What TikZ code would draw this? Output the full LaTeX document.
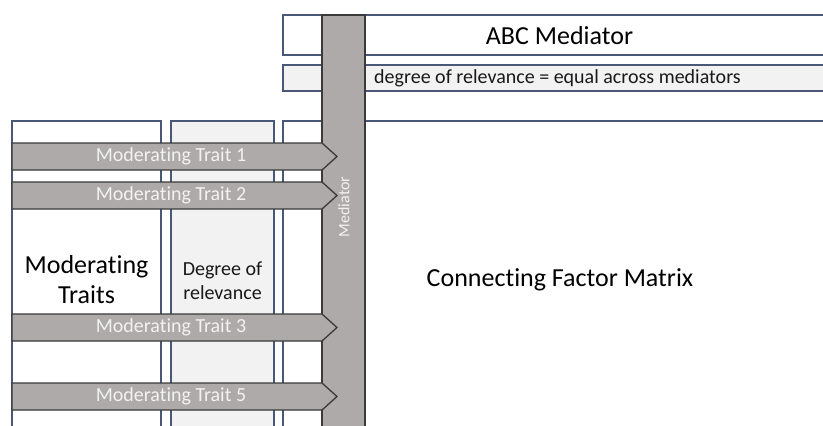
\documentclass[tikz,border=0pt]{standalone}
\usepackage{fontspec}
\setmainfont[Ligatures=NoCommon]{Carlito}
\definecolor{framec}{HTML}{4A5878}
\definecolor{bandc}{HTML}{F2F2F2}
\definecolor{traitc}{HTML}{AEAAAA}
\definecolor{edgec}{HTML}{3A3A3A}
\begin{document}
\begin{tikzpicture}[x=1pt,y=-1pt]
\tikzset{
  frame/.style={draw=framec, line width=1.2pt, fill=white},
  band/.style={frame, fill=bandc},
  medbar/.style={draw=edgec, line width=1.3pt, fill=traitc},
  traitarrow/.style={draw=edgec, line width=1.3pt, fill=traitc, line join=miter},
  bigtext/.style={font=\fontsize{26}{30}\selectfont, text=black, align=center, inner sep=0pt},
  smalltext/.style={font=\fontsize{20}{24}\selectfont, text=black!90, align=center, inner sep=0pt},
  traitlabel/.style={font=\fontsize{20}{24}\selectfont, text=white!95!black, inner sep=0pt},
}
\useasboundingbox (0,0) rectangle (823,426);
\clip (0,0) rectangle (823,426);

% header rows across the mediators
\draw[frame] (283,15) rectangle (840,55);
\draw[band]  (283,65) rectangle (840,91);
% matrix area and the column frames
\draw[frame] (283,121) rectangle (840,450);
\draw[frame] (12,121) rectangle (161,450);
\draw[band]  (171,121) rectangle (274,450);

% vertical mediator bar
\draw[medbar] (322,15) rectangle (365,450);
\node[traitlabel, font=\fontsize{16}{18}\selectfont, rotate=90] (medlabel) at (344,207) {Mediator};

% moderating trait arrows
\foreach \yt/\lab [count=\i] in {143/1, 182/2, 314/3, 383/5} {
  \draw[traitarrow] (12,\yt) -- (322,\yt) -- (337,\yt+13.5) -- (322,\yt+27) -- (12,\yt+27) -- cycle;
  \node[traitlabel] (trait\i) at (171,\yt+13.5) {Moderating Trait \lab};
}

% texts
\node[bigtext] (abc) at (559.5,36) {ABC Mediator};
\node[smalltext, anchor=west] (rel) at (374,78) {degree of relevance = equal across mediators};
\node[bigtext] (modtraits) at (86.5,280) {Moderating\\Traits};
\node[smalltext] (degree) at (222.5,281) {Degree of\\relevance};
\node[bigtext] (cfm) at (560,280) {Connecting Factor Matrix};
\end{tikzpicture}
\end{document}
